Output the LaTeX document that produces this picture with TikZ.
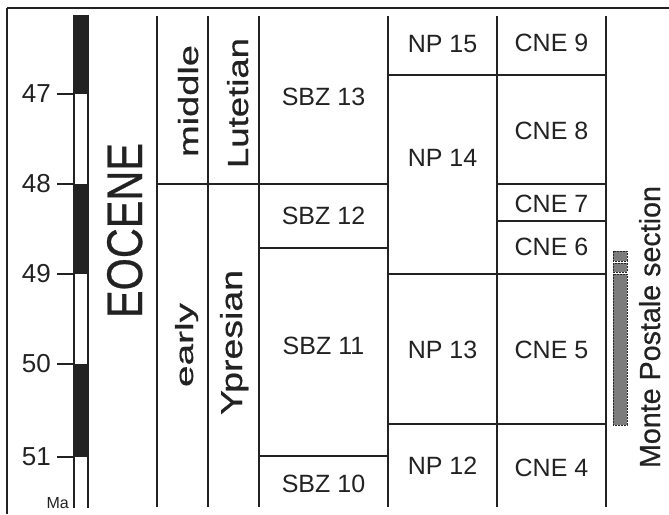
\documentclass[tikz,border=0pt]{standalone}
\usepackage{fontspec}
\setmainfont{Liberation Sans}
\newfontfamily\uprightfont[FakeBold=0.6]{Liberation Sans}
\usepackage{graphicx}
\definecolor{ChartInk}{HTML}{222222}
\definecolor{RangeGray}{HTML}{7C7C7C}

\begin{document}
\begin{tikzpicture}[
    x=1pt,y=-1pt,
    every node/.style={
        inner sep=0pt,
        text=ChartInk
    },
    grid/.style={
        draw=ChartInk,
        line width=1.1pt
    },
    zone/.style={
        font=\fontsize{25}{30}\selectfont
    },
    upright/.style={
        rotate=90,
        anchor=base,
        font=\uprightfont\fontsize{30}{36}\selectfont
    },
    age/.style={
        anchor=east,
        font=\fontsize{26}{30}\selectfont
    },
    chron/.style={
        fill=ChartInk
    },
    sectionbar/.style={
        fill=RangeGray,
        draw=black!85,
        line width=0.7pt,
        dash pattern=on 2pt off 1pt
    }
]

\useasboundingbox (0,0) rectangle (669,514);

% frame
\draw[grid,line width=2.2pt] (7,8) -- (669,8);
\draw[grid,line width=1.4pt] (7,8) -- (7,514);

% polarity column
\fill[chron] (74,15) rectangle (88,94);
\fill[chron] (74,184) rectangle (88,274);
\fill[chron] (74,364) rectangle (88,457);
\draw[grid] (74,15) -- (74,508);
\draw[grid] (88,15) -- (88,508);

% age scale
\foreach \y/\m in {94/47,184/48,274/49,364/50,457/51}{
    \draw[grid] (57,\y) -- (74,\y);
    \node[age] (ma\m) at (51,\y) {\m};
}
\node[anchor=base east,font=\fontsize{16}{18}\selectfont] (unit) at (69,508) {Ma};

% columns
\foreach \x in {157,208,259,388,497,606}
    \draw[grid] (\x,16) -- (\x,507);

% zone boundaries
\draw[grid] (157,184) -- (388,184);
\draw[grid] (259,248) -- (388,248);
\draw[grid] (259,456) -- (388,456);
\draw[grid] (388,75) -- (606,75);
\draw[grid] (388,274) -- (606,274);
\draw[grid] (388,424) -- (606,424);
\draw[grid] (497,221) -- (606,221);
\draw[grid,line width=2pt] (497,184) -- (606,184);

% epoch, subepoch, stage
\node[upright] (epoch) at (142,230.5) {\resizebox{175pt}{35pt}{EOCENE}};
\node[upright] (middle) at (198,101) {\resizebox{112pt}{20pt}{middle}};
\node[upright] (early) at (193,345) {\resizebox{84pt}{18pt}{early}};
\node[upright] (lutetian) at (248,103) {\resizebox{130pt}{21pt}{Lutetian}};
\node[upright] (ypresian) at (242,342.5) {\resizebox{145pt}{22pt}{Ypresian}};

% SBZ
\node[zone] (sbz13) at (323.5,97) {SBZ 13};
\node[zone] (sbz12) at (323.5,216) {SBZ 12};
\node[zone] (sbz11) at (323.5,346) {SBZ 11};
\node[zone] (sbz10) at (323.5,484) {SBZ 10};

% NP
\node[zone] (np15) at (442.5,44) {NP 15};
\node[zone] (np14) at (442.5,158) {NP 14};
\node[zone] (np13) at (442.5,350) {NP 13};
\node[zone] (np12) at (442.5,466) {NP 12};

% CNE
\node[zone] (cne9) at (551.5,43) {CNE 9};
\node[zone] (cne8) at (551.5,131) {CNE 8};
\node[zone] (cne7) at (551.5,204) {CNE 7};
\node[zone] (cne6) at (551.5,246.5) {CNE 6};
\node[zone] (cne5) at (551.5,350) {CNE 5};
\node[zone] (cne4) at (551.5,468) {CNE 4};

% section range
\draw[sectionbar] (613,251) rectangle (627,261);
\draw[sectionbar] (613,263) rectangle (627,272);
\draw[sectionbar] (613,274) rectangle (627,425);
\node[upright] (section) at (660,327) {\resizebox{282pt}{21pt}{Monte Postale section}};

\end{tikzpicture}
\end{document}
